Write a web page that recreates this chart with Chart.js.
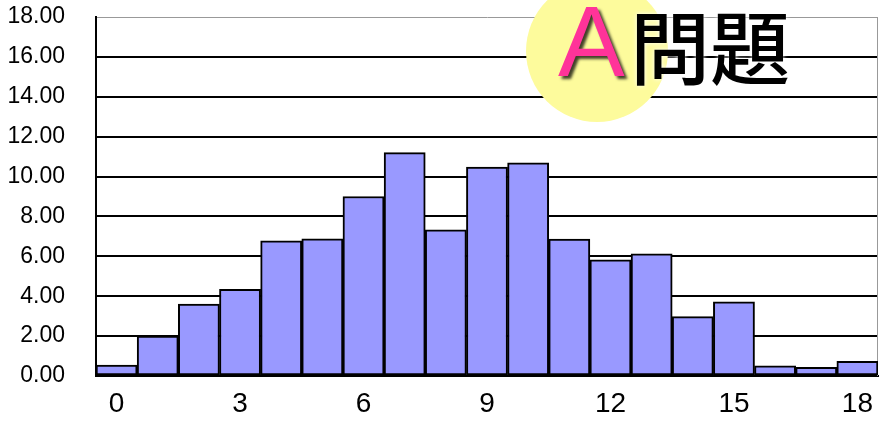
<!DOCTYPE html>
<html>
<head>
<meta charset="utf-8">
<script src="https://cdn.jsdelivr.net/npm/chart.js@4/dist/chart.umd.min.js"></script>
<style>
  html, body { margin: 0; padding: 0; background: #fff; }
  #wrap { width: 879px; height: 421px; position: relative; }
</style>
</head>
<body>
<div id="wrap"><canvas id="histChart"></canvas></div>
<script>
// scores 0..18 and their share (%)
const categories = ['0','1','2','3','4','5','6','7','8','9','10','11','12','13','14','15','16','17','18'];
const shares = [0.55, 2.0, 3.6, 4.35, 6.78, 6.88, 9.0, 11.2, 7.33, 10.47, 10.69, 6.87, 5.82, 6.12, 2.98, 3.72, 0.51, 0.43, 0.74];
const yTicks = [0, 2, 4, 6, 8, 10, 12, 14, 16, 18];
const titleA = 'A';
const titleRest = '問題';

// yellow badge + "A問題" title
const titleBadge = {
  id: 'titleBadge',
  afterDraw(chart) {
    const ctx = chart.ctx;
    ctx.save();
    ctx.fillStyle = '#fdfb9c';
    ctx.beginPath();
    ctx.arc(597, 51, 71, 0, Math.PI * 2);
    ctx.fill();

    ctx.textBaseline = 'alphabetic';
    ctx.textAlign = 'left';
    ctx.font = '100px "Liberation Sans", Arial, sans-serif';
    ctx.shadowColor = 'rgba(0,0,0,0.75)';
    ctx.shadowOffsetX = 3;
    ctx.shadowOffsetY = 3;
    ctx.shadowBlur = 3;
    ctx.fillStyle = '#ff3399';
    ctx.fillText(titleA, 558, 76);

    ctx.font = '500 80px "Noto Sans CJK JP", sans-serif';
    ctx.shadowColor = '#ffffff';
    ctx.shadowOffsetX = 0;
    ctx.shadowOffsetY = 0;
    ctx.shadowBlur = 5;
    ctx.fillStyle = '#000';
    ctx.fillText(titleRest, 630, 78);
    ctx.restore();
  }
};

const ctx = document.getElementById('histChart').getContext('2d');
new Chart(ctx, {
  type: 'bar',
  data: {
    labels: categories,
    datasets: [{
      data: shares,
      backgroundColor: '#9999ff',
      borderColor: '#000',
      borderWidth: 2,
      borderSkipped: false,
      barPercentage: 1,
      categoryPercentage: 1
    }]
  },
  options: {
    responsive: true,
    maintainAspectRatio: false,
    animation: false,
    layout: { padding: { top: 17, right: 1, left: 0, bottom: 0 } },
    plugins: { legend: { display: false }, tooltip: { enabled: false } },
    scales: {
      x: {
        grid: { display: false, drawTicks: false },
        border: { color: '#000', width: 2 },
        ticks: {
          autoSkip: false,
          maxRotation: 0,
          padding: 14,
          color: '#000',
          font: { family: '"Liberation Sans", Arial, sans-serif', size: 28, lineHeight: 1 },
          callback: (v, i) => (i % 3 === 0 ? categories[i] : '')
        },
        afterFit: s => { s.height = 45; s.paddingLeft = 0; s.paddingRight = 0; }
      },
      y: {
        min: 0,
        max: 18,
        afterBuildTicks: s => { s.ticks = yTicks.map(v => ({ value: v })); },
        grid: {
          drawTicks: false,
          color: c => (c.tick && c.tick.value === 18 ? '#999' : '#000'),
          lineWidth: c => (c.tick && c.tick.value === 18 ? 1 : 2)
        },
        border: { color: '#000', width: 2 },
        ticks: {
          padding: 31,
          color: '#000',
          font: { family: '"Liberation Sans", Arial, sans-serif', size: 23 },
          callback: v => v.toFixed(2)
        },
        afterFit: s => { s.width = 96; s.paddingTop = 0; s.paddingBottom = 0; }
      }
    }
  },
  plugins: [titleBadge, {
    id: 'rightBorder',
    beforeDatasetsDraw(chart) {
      const a = chart.chartArea;
      const c = chart.ctx;
      c.save();
      c.strokeStyle = '#999';
      c.lineWidth = 1;
      c.beginPath();
      c.moveTo(a.right - 0.5, a.top);
      c.lineTo(a.right - 0.5, a.bottom);
      c.stroke();
      c.restore();
    }
  }]
});
</script>
</body>
</html>
